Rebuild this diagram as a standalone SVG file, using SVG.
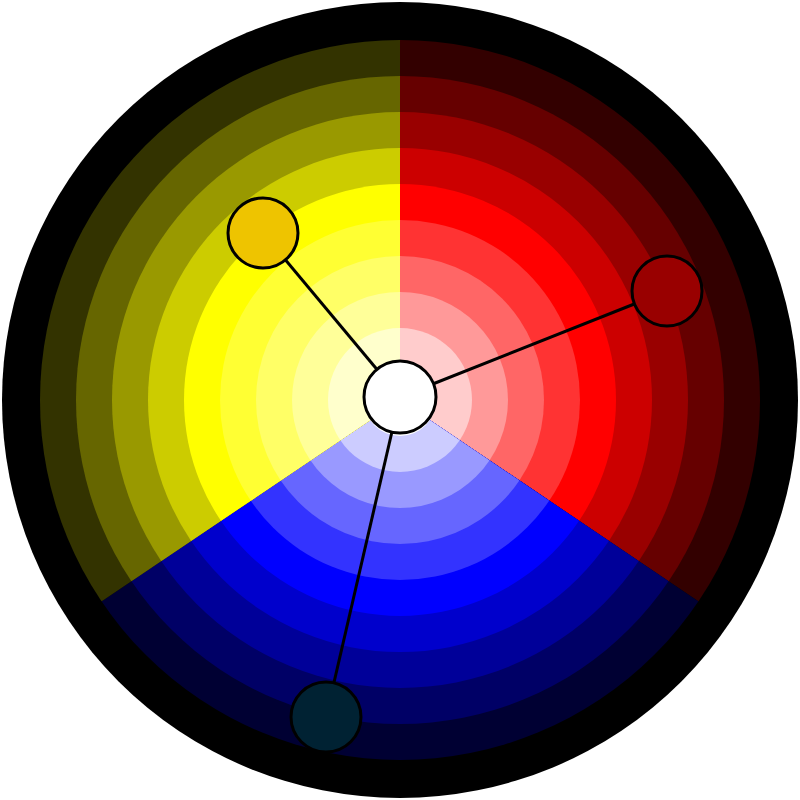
<svg xmlns="http://www.w3.org/2000/svg" width="800" height="800" viewBox="0 0 800 800">
<style>.n{stroke:#000;stroke-width:3}.c line{stroke:#000;stroke-width:3}</style>
<defs>
<clipPath id="cr"><path d="M400,400 L400,0 A400,400 0 0 1 731.6,623.7 Z"/></clipPath>
<clipPath id="cb"><path d="M400,400 L731.6,623.7 A400,400 0 0 1 68.4,623.7 Z"/></clipPath>
<clipPath id="cy"><path d="M400,400 L68.4,623.7 A400,400 0 0 1 400,0 Z"/></clipPath>
</defs>
<circle cx="400" cy="400" r="398" fill="#000"/>
<g id="red" clip-path="url(#cr)">
<circle cx="400" cy="400" r="360" fill="#330000"/><circle cx="400" cy="400" r="324" fill="#660000"/><circle cx="400" cy="400" r="288" fill="#990000"/><circle cx="400" cy="400" r="252" fill="#cc0000"/><circle cx="400" cy="400" r="216" fill="#ff0000"/><circle cx="400" cy="400" r="180" fill="#ff3333"/><circle cx="400" cy="400" r="144" fill="#ff6666"/><circle cx="400" cy="400" r="108" fill="#ff9999"/><circle cx="400" cy="400" r="72" fill="#ffcccc"/><circle cx="400" cy="400" r="36" fill="#fff"/>
</g>
<g id="blue" clip-path="url(#cb)">
<circle cx="400" cy="400" r="360" fill="#000033"/><circle cx="400" cy="400" r="324" fill="#000066"/><circle cx="400" cy="400" r="288" fill="#000099"/><circle cx="400" cy="400" r="252" fill="#0000cc"/><circle cx="400" cy="400" r="216" fill="#0000ff"/><circle cx="400" cy="400" r="180" fill="#3333ff"/><circle cx="400" cy="400" r="144" fill="#6666ff"/><circle cx="400" cy="400" r="108" fill="#9999ff"/><circle cx="400" cy="400" r="72" fill="#ccccff"/><circle cx="400" cy="400" r="36" fill="#fff"/>
</g>
<g id="yellow" clip-path="url(#cy)">
<circle cx="400" cy="400" r="360" fill="#333300"/><circle cx="400" cy="400" r="324" fill="#666600"/><circle cx="400" cy="400" r="288" fill="#999900"/><circle cx="400" cy="400" r="252" fill="#cccc00"/><circle cx="400" cy="400" r="216" fill="#ffff00"/><circle cx="400" cy="400" r="180" fill="#ffff33"/><circle cx="400" cy="400" r="144" fill="#ffff66"/><circle cx="400" cy="400" r="108" fill="#ffff99"/><circle cx="400" cy="400" r="72" fill="#ffffcc"/><circle cx="400" cy="400" r="36" fill="#fff"/>
</g>
<g class="c" id="connectors">
<line x1="400" y1="397" x2="263" y2="233"/>
<line x1="400" y1="397" x2="667" y2="291"/>
<line x1="400" y1="397" x2="326" y2="717"/>
</g>
<g id="n-yellow"><circle class="n" cx="263" cy="233" r="35" fill="#eec400"/></g>
<g id="n-red"><circle class="n" cx="667" cy="291" r="35" fill="#990000"/></g>
<g id="n-blue"><circle class="n" cx="326" cy="717" r="35" fill="#002233"/></g>
<g id="n-center"><circle class="n" cx="400" cy="397" r="36" fill="#fff"/></g>
</svg>
